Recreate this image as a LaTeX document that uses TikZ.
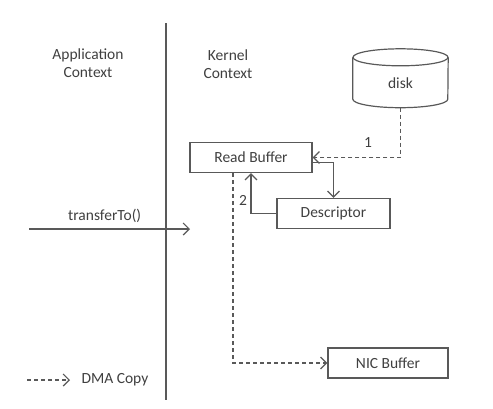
\documentclass[tikz,border=0pt]{standalone}
\usepackage{fontspec}
\setmainfont{Carlito}
\usepackage{tikz}
\usetikzlibrary{positioning}
\usetikzlibrary{arrows.meta}

\begin{document}
\begin{tikzpicture}[
          x=1pt, y=-1pt, % 以像素为单位, y 向下
          every node/.style={font=\fontsize{15.5}{18}\selectfont, text=black!75},
          buf/.style={draw=black!65, line width=1.2pt, minimum height=30pt},
          dma/.style={draw=black!65, line width=1.2pt, dashed, dash pattern=on 4pt off 3pt, -{Straight Barb[length=6pt,width=12pt]}},
          ctl/.style={draw=black!65, line width=1.2pt, -{Straight Barb[length=6pt,width=12pt]}}
      ]
        \useasboundingbox (0,0) rectangle (493,408);
        % 分隔线和两侧标题
        \coordinate (top) at (166,23);
        \coordinate (bot) at (166,400);
        \draw[black!65, line width=1.5pt] (top) -- (bot);
        \node[align=center] (app)  at (88,63)  {Application\\Context};
        \node[align=center] (kern) at (228,64) {Kernel\\Context};
        % 磁盘 (圆柱, 手工画)
        \node[minimum width=95pt, minimum height=41.5pt, inner sep=0pt] (disk) at (400.5,78.25) {};
        \draw[black!65, line width=1.2pt] (disk.north west) -- (disk.south west)
            arc[start angle=180, end angle=360, x radius=47.5pt, y radius=8.5pt] -- (disk.north east);
        \draw[black!65, line width=1.2pt] (disk.north) ellipse [x radius=47.5pt, y radius=8.5pt];
        \node (disklbl) at (400.5,83) {disk};
        \coordinate (diskbot) at ([yshift=-8.5pt]disk.south);
        % 缓冲区
        \node[buf, minimum width=122pt] (rbuf) at (251,157.5) {Read Buffer};
        \node[buf, minimum width=113pt] (desc) at (333.5,213.5) {Descriptor};
        \node[buf, minimum width=120pt] (nic)  at (388,363) {NIC Buffer};
        % 各条连线和编号
        \draw[dma] (diskbot) |- (rbuf.east);
        \node (one) at (368,143) {1};
        \draw[ctl] ([yshift=-5pt]rbuf.east) -| (desc.north);
        \draw[ctl] (desc.west) -| (rbuf.south);
        \node (two) at (243,200) {2};
        \draw[dma] ([xshift=-18pt]rbuf.south) |- (nic.west);
        % 调用 transferTo()
        \coordinate (callA) at (29,229);
        \coordinate (callB) at (190,229);
        \draw[ctl] (callA) -- (callB) node[pos=0.47, above=2pt] (call) {transferTo()};
        % 图例
        \coordinate (legA) at (27,380);
        \coordinate (legB) at (70,380);
        \draw[dma] (legA) -- (legB);
        \node[right=8pt of legB] (leg) {DMA Copy};
      \end{tikzpicture}
\end{document}
